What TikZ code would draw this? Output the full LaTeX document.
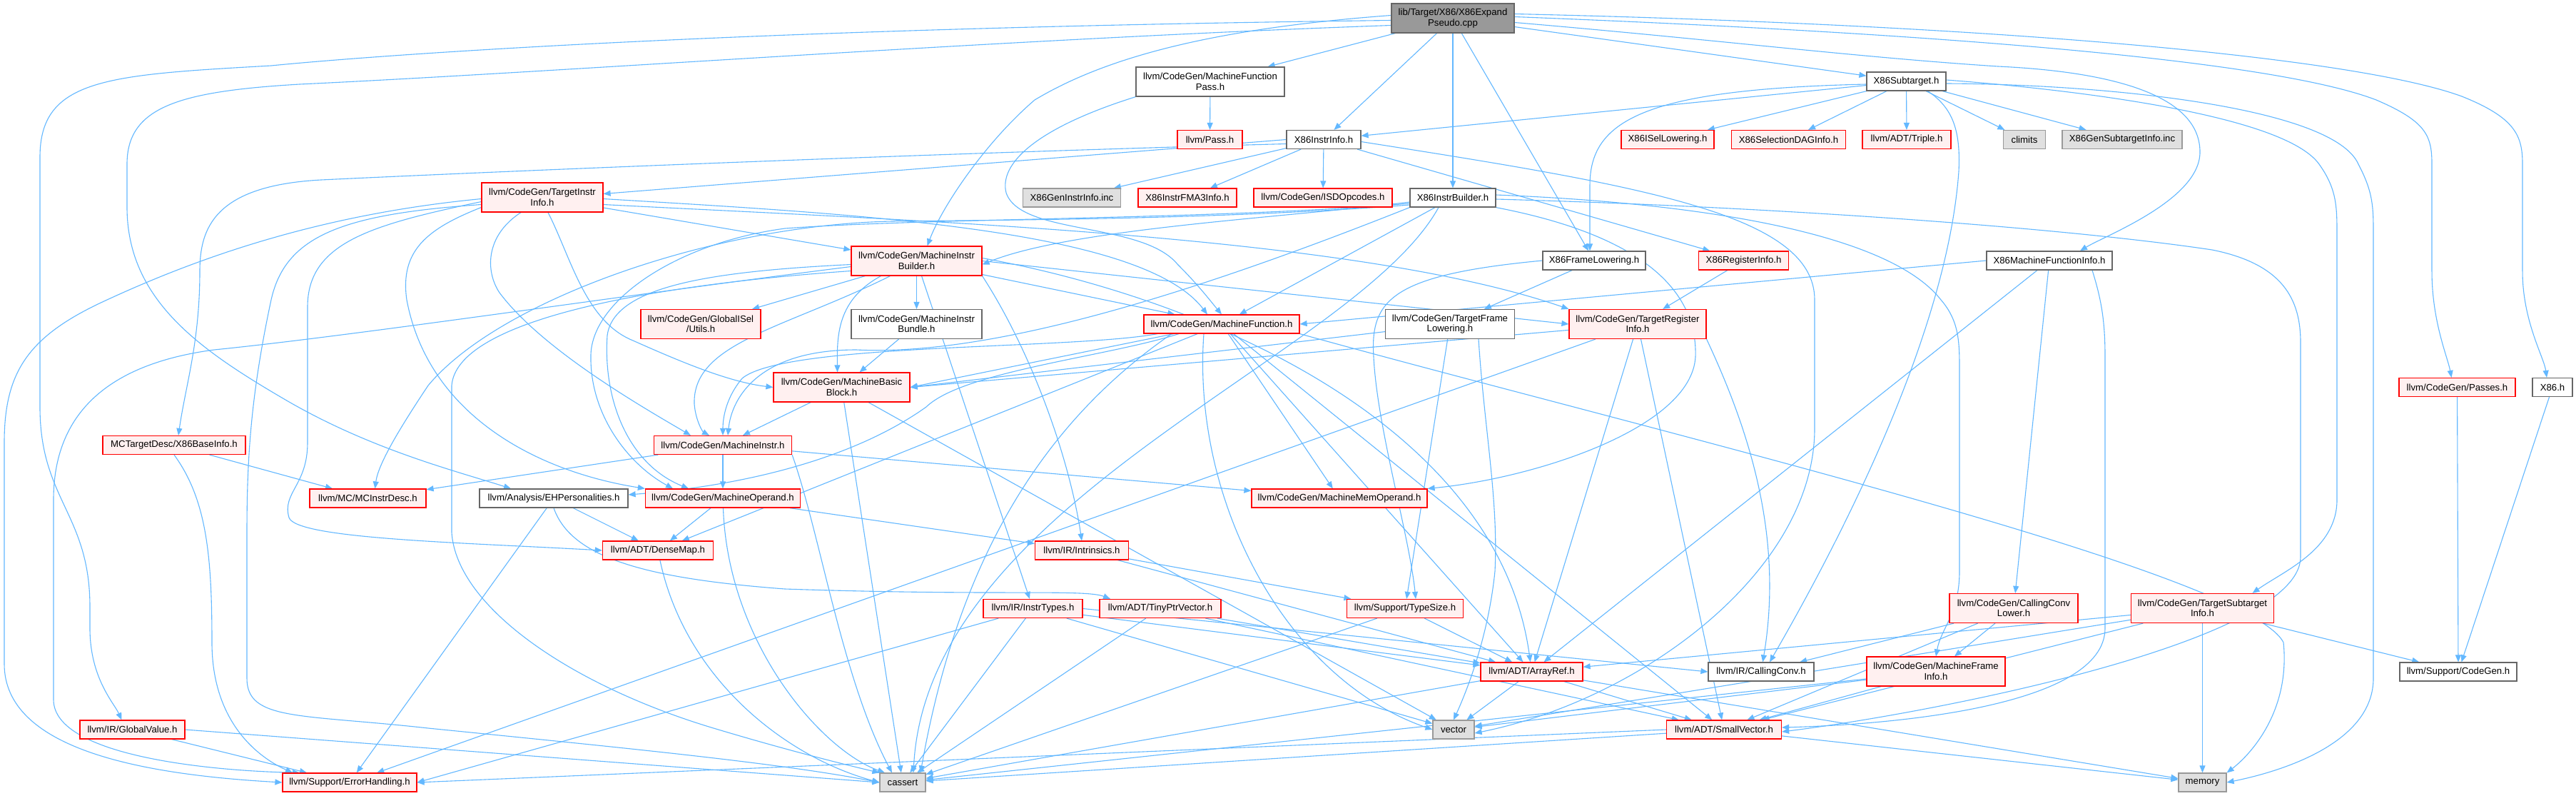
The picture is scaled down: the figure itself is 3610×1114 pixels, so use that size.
\documentclass[tikz,border=0pt]{standalone}
\usepackage{fontspec}
\setmainfont{Liberation Sans}
\usetikzlibrary{arrows.meta,backgrounds}
\pgfdeclarelayer{bottom}
\pgfsetlayers{bottom,background,main}
\definecolor{eb}{HTML}{63B8FF}
\definecolor{rfill}{HTML}{FFF0F0}
\definecolor{rbord}{HTML}{FF0000}
\definecolor{gfortyc}{HTML}{666666}
\definecolor{gsixtyc}{HTML}{999999}
\definecolor{gfill}{HTML}{E0E0E0}
\begin{document}
\begin{tikzpicture}[x=1pt,y=-1pt,
  nd/.style={draw, line width=1.2pt, inner sep=0pt, align=center, font=\fontsize{13.2}{14.5}\selectfont},
  sz/.style n args={2}{minimum width=#1pt, minimum height=#2pt},
  rn/.style={nd, draw=rbord, fill=rfill},
  wn/.style={nd, draw=gfortyc, fill=white},
  gn/.style={nd, draw=gsixtyc, fill=gfill},
  rootn/.style={nd, draw=gfortyc, fill=gsixtyc},
  e/.style={draw=eb, line width=1.1pt, -{Triangle[length=10pt,width=8pt]}}]
\useasboundingbox (0,0) rectangle (3610,1114);
\begin{pgfonlayer}{bottom}
\fill[white] (0,0) rectangle (3610,1114);
\end{pgfonlayer}

% nodes
\node[rootn, sz={172}{41}] (root) at (2036,25.5) {lib/Target/X86/X86Expand\\Pseudo.cpp};
\node[wn, sz={208}{41}] (mfp) at (1696,114.5) {llvm/CodeGen/MachineFunction\\Pass.h};
\node[wn, sz={111}{26}] (x86st) at (2671.5,114) {X86Subtarget.h};
\node[rn, sz={91}{26}] (pass) at (1695.5,195.5) {llvm/Pass.h};
\node[wn, sz={104}{26}] (x86ii) at (1855,195.5) {X86InstrInfo.h};
\node[rn, sz={130}{26}] (isel) at (2337,195.5) {X86ISelLowering.h};
\node[rn, sz={160}{26}] (sdag) at (2506.5,195.5) {X86SelectionDAGInfo.h};
\node[rn, sz={124}{26}] (triple) at (2672,195.5) {llvm/ADT/Triple.h};
\node[gn, sz={59}{26}] (climits) at (2837,195.5) {climits};
\node[gn, sz={168}{26}] (gensti) at (2974,195.5) {X86GenSubtargetInfo.inc};
\node[rn, sz={170}{41}] (tii) at (760,276.5) {llvm/CodeGen/TargetInstr\\Info.h};
\node[gn, sz={137}{26}] (genii) at (1502,277) {X86GenInstrInfo.inc};
\node[rn, sz={138}{26}] (fma3) at (1664,277) {X86InstrFMA3Info.h};
\node[rn, sz={194}{26}] (isd) at (1854,277) {llvm/CodeGen/ISDOpcodes.h};
\node[wn, sz={120}{26}] (x86ib) at (2036,277) {X86InstrBuilder.h};
\node[rn, sz={183}{41}] (mib) at (1284.5,365.5) {llvm/CodeGen/MachineInstr\\Builder.h};
\node[wn, sz={144}{26}] (x86fl) at (2234,365) {X86FrameLowering.h};
\node[rn, sz={126}{26}] (x86ri) at (2443.5,365) {X86RegisterInfo.h};
\node[wn, sz={176}{26}] (x86mfi) at (2872,365) {X86MachineFunctionInfo.h};
\node[rn, sz={168}{41}] (gisel) at (982,454) {llvm/CodeGen/GlobalISel\\/Utils.h};
\node[wn, sz={183}{41}] (mibundle) at (1284.5,454) {llvm/CodeGen/MachineInstr\\Bundle.h};
\node[rn, sz={218}{26}] (mf) at (1712,454) {llvm/CodeGen/MachineFunction.h};
\node[wn, sz={181}{41}] (tfl) at (2032,454) {llvm/CodeGen/TargetFrame\\Lowering.h};
\node[rn, sz={192}{41}] (tri) at (2295,454) {llvm/CodeGen/TargetRegister\\Info.h};
\node[rn, sz={191}{41}] (mbb) at (1179.5,542.5) {llvm/CodeGen/MachineBasic\\Block.h};
\node[rn, sz={163}{26}] (passes) at (3443.5,542.5) {llvm/CodeGen/Passes.h};
\node[wn, sz={56}{26}] (x86h) at (3577,542.5) {X86.h};
\node[rn, sz={200}{26}] (basei) at (244,623.5) {MCTargetDesc/X86BaseInfo.h};
\node[rn, sz={193}{26}] (minstr) at (1013,623.5) {llvm/CodeGen/MachineInstr.h};
\node[rn, sz={163}{26}] (mcid) at (515.5,698) {llvm/MC/MCInstrDesc.h};
\node[wn, sz={208}{26}] (ehp) at (776,698) {llvm/Analysis/EHPersonalities.h};
\node[rn, sz={217}{26}] (mop) at (1013,698) {llvm/CodeGen/MachineOperand.h};
\node[rn, sz={246}{26}] (mmo) at (1877,698) {llvm/CodeGen/MachineMemOperand.h};
\node[rn, sz={155}{26}] (densemap) at (922,771) {llvm/ADT/DenseMap.h};
\node[rn, sz={131}{26}] (intrinsics) at (1516,771) {llvm/IR/Intrinsics.h};
\node[rn, sz={139}{26}] (instrtypes) at (1447.5,852.5) {llvm/IR/InstrTypes.h};
\node[rn, sz={170}{26}] (tinyptr) at (1626,852.5) {llvm/ADT/TinyPtrVector.h};
\node[rn, sz={163}{26}] (typesize) at (1969,852.5) {llvm/Support/TypeSize.h};
\node[rn, sz={180}{41}] (ccl) at (2822,852) {llvm/CodeGen/CallingConv\\Lower.h};
\node[rn, sz={200}{41}] (tsi) at (3086.5,852) {llvm/CodeGen/TargetSubtarget\\Info.h};
\node[rn, sz={143}{26}] (arrayref) at (2146.5,941) {llvm/ADT/ArrayRef.h};
\node[wn, sz={148}{26}] (ccv) at (2468,941) {llvm/IR/CallingConv.h};
\node[rn, sz={194}{41}] (mfi) at (2713,940.5) {llvm/CodeGen/MachineFrame\\Info.h};
\node[wn, sz={164}{26}] (cgen) at (3445,941) {llvm/Support/CodeGen.h};
\node[rn, sz={147}{26}] (gv) at (185.5,1022) {llvm/IR/GlobalValue.h};
\node[gn, sz={58}{26}] (vector) at (2037,1022) {vector};
\node[rn, sz={161}{26}] (smallvec) at (2416,1022) {llvm/ADT/SmallVector.h};
\node[rn, sz={188}{26}] (errh) at (490,1096) {llvm/Support/ErrorHandling.h};
\node[gn, sz={64}{26}] (cassert) at (1265,1096) {cassert};
\node[gn, sz={67}{26}] (memory) at (3086.5,1096) {memory};

\begin{scope}[on background layer]
% root
\draw[e] (root) -- (mfp);
\draw[e] (root) -- (x86ii);
\draw[e] (root) -- (x86ib);
\draw[e] (root) -- (x86fl);
\draw[e] (root) -- (x86st);
\draw[e] ([yshift=-3pt]root.west) .. controls (1000,40) and (500,80) .. (380,92) .. controls (150,105) and (56,110) .. (56,220) -- (56,570) .. controls (56,700) and (126,720) .. (126,850) -- (126,880) .. controls (126,950) and (160,985) .. ([xshift=-15pt]gv.north);
\draw[e] ([yshift=-10pt]root.west) .. controls (1400,55) and (800,100) .. (420,118) .. controls (250,128) and (178,150) .. (178,230) -- (178,290) .. controls (178,420) and (280,490) .. (400,560) .. controls (520,630) and (640,660) .. ([xshift=-60pt]ehp.north);
\draw[e] ([yshift=4pt]root.west) .. controls (1700,40) and (1550,80) .. (1450,140) .. controls (1380,200) and (1320,290) .. ([xshift=15pt]mib.north);
\draw[e] ([yshift=-6pt]root.east) .. controls (2400,55) and (2600,80) .. (2800,93) .. controls (2950,100) and (3083,130) .. (3083,213) .. controls (3083,280) and (2950,330) .. ([xshift=43pt]x86mfi.north);
\draw[e] ([yshift=2pt]root.east) .. controls (2800,50) and (3200,90) .. (3330,140) .. controls (3400,170) and (3408,190) .. (3408,230) -- (3408,380) .. controls (3408,450) and (3430,500) .. ([xshift=-8pt]passes.north);
\draw[e] ([yshift=6pt]root.east) .. controls (2800,35) and (3300,80) .. (3450,135) .. controls (3525,165) and (3535,190) .. (3535,230) -- (3535,380) .. controls (3535,450) and (3565,500) .. ([xshift=-8pt]x86h.north);
% MachineFunctionPass
\draw[e] (mfp) -- (pass);
\draw[e] (mfp.south west) .. controls (1450,180) and (1400,230) .. (1410,270) .. controls (1430,330) and (1600,310) .. (1650,370) .. controls (1680,400) and (1695,420) .. (mf.north);
% X86Subtarget
\draw[e] (x86st) -- (x86ii);
\draw[e] (x86st) -- (isel);
\draw[e] (x86st) -- (sdag);
\draw[e] (x86st) -- (triple);
\draw[e] (x86st) -- (climits);
\draw[e] (x86st) -- (gensti);
\draw[e] ([yshift=-4pt]x86st.west) .. controls (2300,125) and (2228,170) .. (2228,260) -- ([xshift=-6pt]x86fl.north);
\draw[e] ([xshift=30pt]x86st.south) .. controls (2735,150) and (2748,180) .. (2745,240) .. controls (2730,450) and (2600,720) .. ([xshift=12pt]ccv.north);
\draw[e] ([yshift=2pt]x86st.east) .. controls (2900,125) and (3200,160) .. (3250,230) .. controls (3275,265) and (3275,290) .. (3275,330) -- (3275,700) .. controls (3275,770) and (3200,800) .. ([xshift=70pt]tsi.north);
\draw[e] ([yshift=-3pt]x86st.east) .. controls (2950,118) and (3270,150) .. (3305,230) .. controls (3326,270) and (3326,290) .. (3326,330) -- (3326,950) .. controls (3326,1040) and (3200,1080) .. (memory.east);
% X86InstrInfo
\draw[e] (x86ii) -- (fma3);
\draw[e] (x86ii) -- (genii);
\draw[e] (x86ii) -- (isd);
\draw[e] (x86ii) -- (x86ri);
\draw[e] (x86ii.west) -- ([yshift=5pt]tii.east);
\draw[e] ([yshift=-6pt]x86ii.west) .. controls (1300,215) and (700,240) .. (450,252) .. controls (300,260) and (280,320) .. (280,380) .. controls (280,480) and (260,540) .. ([xshift=6pt]basei.north);
\draw[e] ([yshift=-3pt]x86ii.east) .. controls (2300,260) and (2543,300) .. (2543,420) -- (2543,600) .. controls (2543,800) and (2300,980) .. ([yshift=-5pt]vector.east);
% X86InstrBuilder
\draw[e] ([yshift=-6pt]x86ib.west) .. controls (1800,305) and (1500,320) .. ([yshift=-5pt]mib.east);
\draw[e] (x86ib) -- (mf);
\draw[e] (x86ib.south west) .. controls (1700,400) and (1400,500) .. (1200,490) .. controls (1060,490) and (1025,560) .. ([xshift=7pt]minstr.north);
\draw[e] ([yshift=-8pt]x86ib.west) .. controls (1700,308) and (1300,305) .. (1100,320) .. controls (950,340) and (830,420) .. (828,497) .. controls (826,580) and (880,650) .. ([xshift=-70pt]mop.north);
\draw[e] ([xshift=-20pt]x86ib.south) .. controls (1900,500) and (1300,700) .. ([xshift=15pt]cassert.north);
\draw[e] ([yshift=-10pt]x86ib.west) .. controls (1700,308) and (1400,308) .. (1250,310) .. controls (1000,315) and (700,420) .. (600,540) .. controls (560,600) and (530,650) .. ([xshift=10pt]mcid.north);
\draw[e] (x86ib.south east) .. controls (2250,320) and (2380,380) .. (2376,500) .. controls (2370,600) and (2150,670) .. (mmo.north east);
\draw[e] ([yshift=4pt]x86ib.east) .. controls (2400,285) and (2650,330) .. (2720,420) .. controls (2746,450) and (2746,480) .. (2746,520) -- (2746,800) .. controls (2746,860) and (2720,880) .. (mfi.north);
\draw[e] ([yshift=-2pt]x86ib.east) .. controls (2500,290) and (2900,320) .. (3100,350) .. controls (3200,370) and (3224,420) .. (3224,480) -- (3224,780) .. controls (3224,900) and (2700,1000) .. ([yshift=-3pt]smallvec.east);
% X86FrameLowering
\draw[e] (x86fl) -- (tfl);
\draw[e] (x86fl.west) .. controls (1950,385) and (1920,420) .. (1925,500) .. controls (1930,600) and (1975,750) .. ([xshift=15pt]typesize.north);
% X86RegisterInfo
\draw[e] (x86ri) -- (tri);
% X86MachineFunctionInfo
\draw[e] (x86mfi.west) -- (mf.east);
\draw[e] (x86mfi) -- (arrayref);
\draw[e] (x86mfi) -- (ccl);
\draw[e] ([xshift=60pt]x86mfi.south) .. controls (2945,420) and (2950,450) .. (2950,500) -- (2950,880) .. controls (2950,990) and (2650,1015) .. ([yshift=3pt]smallvec.east);
% X86.h, Passes.h
\draw[e] (x86h) -- (cgen);
\draw[e] (passes) -- (cgen);
% TargetInstrInfo
\draw[e] (tii) -- (mib);
\draw[e] ([yshift=-2pt]tii.east) .. controls (1200,300) and (1600,320) .. ([xshift=-20pt]mf.north);
\draw[e] ([yshift=-10pt]tii.east) .. controls (1300,310) and (1900,330) .. (tri.north west);
\draw[e] ([xshift=8pt]tii.south) .. controls (800,360) and (820,450) .. (887,477) .. controls (950,505) and (1020,535) .. (mbb.west);
\draw[e] ([xshift=-30pt]tii.south) .. controls (680,330) and (680,380) .. (700,410) .. controls (760,490) and (900,570) .. ([xshift=-45pt]minstr.north);
\draw[e] ([yshift=-14pt]tii.west) .. controls (600,320) and (560,350) .. (570,420) .. controls (600,580) and (750,660) .. (mop.north west);
\draw[e] ([yshift=-2pt]tii.west) .. controls (450,300) and (280,360) .. (150,420) .. controls (40,470) and (6,520) .. (6,620) -- (6,930) .. controls (6,1050) and (200,1085) .. (errh.west);
\draw[e] ([yshift=-6pt]tii.west) .. controls (520,315) and (431,340) .. (431,430) -- (431,620) .. controls (431,680) and (395,690) .. (405,725) .. controls (415,755) and (650,760) .. (densemap.west);
\draw[e] ([yshift=-10pt]tii.west) .. controls (480,300) and (400,330) .. (380,420) .. controls (350,560) and (346,650) .. (346,750) -- (346,950) .. controls (346,1010) and (420,1000) .. (600,1020) .. controls (900,1050) and (1100,1070) .. (cassert.west);
% MachineInstrBuilder
\draw[e] (mib) -- (gisel);
\draw[e] (mib) -- (mibundle);
\draw[e] ([xshift=-50pt]mib.south) .. controls (1173,420) and (1173,470) .. ([xshift=-6pt]mbb.north);
\draw[e] (mib) -- (mf);
\draw[e] ([xshift=-37pt]mib.south) .. controls (1100,460) and (970,480) .. (973,566) .. controls (975,590) and (985,605) .. ([xshift=-19pt]minstr.north);
\draw[e] ([yshift=-5pt]mib.west) .. controls (1000,380) and (860,400) .. (851,470) .. controls (845,560) and (880,650) .. ([xshift=-48pt]mop.north);
\draw[e] (mib.east) -- (tri.west);
\draw[e] (mib) -- (instrtypes);
\draw[e] (mib.south east) .. controls (1450,500) and (1500,650) .. (intrinsics.north);
\draw[e] ([yshift=4pt]mib.east) .. controls (1700,420) and (2100,600) .. (arrayref);
\draw[e] ([yshift=-14pt]mib.west) .. controls (900,400) and (640,450) .. (633,540) -- (633,746) .. controls (640,850) and (800,960) .. (1000,1020) .. controls (1100,1050) and (1180,1070) .. (cassert.north west);
\draw[e] ([yshift=-8pt]mib.west) .. controls (900,410) and (500,470) .. (300,490) .. controls (150,510) and (75,580) .. (75,700) -- (75,980) .. controls (75,1060) and (300,1080) .. ([xshift=-70pt]errh.north);
% MachineInstrBundle
\draw[e] (mibundle) -- (mbb);
% MachineFunction
\draw[e] (mf) -- (mbb.east);
\draw[e] ([xshift=-90pt]mf.south) .. controls (1500,490) and (1100,480) .. (1040,530) .. controls (1015,560) and (1013,590) .. (minstr.north);
\draw[e] ([xshift=-60pt]mf.south) .. controls (1550,500) and (1350,520) .. (1298,570) .. controls (1200,640) and (1050,680) .. ([yshift=5pt]ehp.east);
\draw[e] (mf) -- (mmo);
\draw[e] (mf) -- (arrayref);
\draw[e] (mf) -- (smallvec);
\draw[e] (mf) -- (densemap);
\draw[e] ([xshift=-70pt]mf.south) .. controls (1450,600) and (1340,800) .. ([xshift=25pt]cassert.north);
\draw[e] ([xshift=-25pt]mf.south) .. controls (1670,700) and (1800,950) .. (vector.west);
\draw[e] (mf.south east) .. controls (2300,600) and (3150,800) .. (3200,900) .. controls (3210,1000) and (3150,1060) .. (memory.north east);
% TargetFrameLowering
\draw[e] (tfl) -- (mbb.east);
\draw[e] (tfl) -- (typesize);
\draw[e] ([xshift=40pt]tfl.south) .. controls (2080,600) and (2100,700) .. (2095,800) .. controls (2085,900) and (2050,980) .. (vector.north);
% TargetRegisterInfo
\draw[e] (tri) -- (mbb.east);
\draw[e] (tri) -- (errh);
\draw[e] (tri) -- (arrayref);
\draw[e] (tri) -- (smallvec);
\draw[e] (tri.south east) .. controls (2450,600) and (2500,750) .. (ccv);
% MachineBasicBlock
\draw[e] (mbb) -- (minstr);
\draw[e] (mbb) -- (cassert);
\draw[e] (mbb) -- (vector);
% MachineInstr
\draw[e] (minstr) -- (mop);
\draw[e] (minstr) -- (mcid);
\draw[e] (minstr) -- (mmo);
\draw[e] (minstr.south east) .. controls (1150,750) and (1180,950) .. ([xshift=-15pt]cassert.north);
% MachineOperand
\draw[e] (mop) -- (densemap);
\draw[e] (mop) -- (intrinsics);
\draw[e] (mop) .. controls (1020,900) and (1150,1050) .. ([xshift=-25pt]cassert.north);
% X86BaseInfo
\draw[e] (basei) -- (mcid);
\draw[e] (basei.south) .. controls (290,700) and (297,780) .. (297,900) .. controls (297,1010) and (360,1060) .. ([xshift=-80pt]errh.north);
% EHPersonalities
\draw[e] (ehp) -- (densemap);
\draw[e] (ehp) -- (errh);
\draw[e] (ehp.south) .. controls (800,780) and (900,810) .. (1100,825) .. controls (1400,835) and (1520,825) .. ([xshift=-70pt]tinyptr.north);
% DenseMap
\draw[e] (densemap) .. controls (960,950) and (1100,1060) .. (cassert.west);
% Intrinsics
\draw[e] (intrinsics) -- (typesize);
\draw[e] (intrinsics) -- (arrayref);
% InstrTypes
\draw[e] (instrtypes) -- (errh.east);
\draw[e] (instrtypes) -- (cassert);
\draw[e] (instrtypes) -- (vector);
\draw[e] (instrtypes) -- (arrayref);
\draw[e] (instrtypes.east) -- (ccv.west);
% TinyPtrVector
\draw[e] (tinyptr) -- (arrayref);
\draw[e] (tinyptr) -- (smallvec);
\draw[e] (tinyptr) -- (cassert);
% TypeSize
\draw[e] (typesize) -- (arrayref);
\draw[e] (typesize) -- (cassert);
% ArrayRef
\draw[e] (arrayref) -- (vector);
\draw[e] (arrayref) -- (smallvec);
\draw[e] (arrayref) -- (cassert);
\draw[e] (arrayref) -- (memory);
% SmallVector
\draw[e] (smallvec.west) -- (errh.east);
\draw[e] (smallvec) -- (cassert);
\draw[e] (smallvec) -- (memory);
% GlobalValue
\draw[e] (gv) -- ([xshift=-60pt]errh.north);
\draw[e] (gv.east) -- (cassert.west);
% CallingConvLower
\draw[e] (ccl) -- (ccv);
\draw[e] (ccl) -- (mfi);
\draw[e] (ccl) -- (smallvec);
% TargetSubtargetInfo
\draw[e] (tsi) -- (arrayref);
\draw[e] (tsi) -- (smallvec);
\draw[e] (tsi) -- (vector);
\draw[e] (tsi) -- (memory);
\draw[e] (tsi) -- (cgen);
% MachineFrameInfo
\draw[e] (mfi) -- (smallvec);
\draw[e] (mfi) -- (vector);
\draw[e] (mfi) -- (cassert);
\end{scope}
\end{tikzpicture}
\end{document}
